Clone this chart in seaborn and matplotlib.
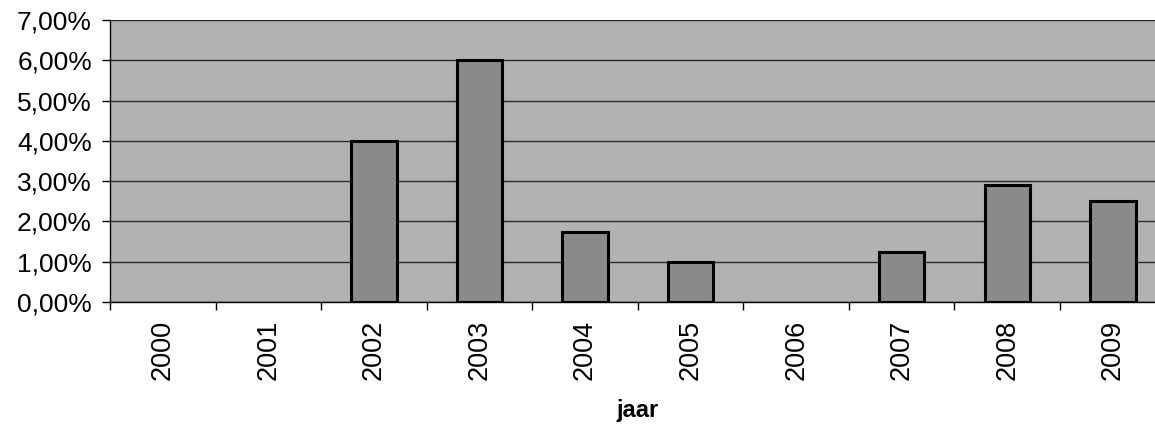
import numpy as np
import pandas as pd
import matplotlib
matplotlib.use("Agg")
import matplotlib.pyplot as plt
from matplotlib.ticker import FuncFormatter, FixedLocator
import seaborn as sns

# Jaarlijkse percentages
jaren = ["2000", "2001", "2002", "2003", "2004", "2005", "2006", "2007", "2008", "2009"]
percentages = [0.0, 0.0, 4.0, 6.0, 1.75, 1.0, 0.0, 1.25, 2.9, 2.5]

df = pd.DataFrame({"jaar": jaren, "pct": percentages})

sns.set_theme(style="white")
plt.rcParams["font.family"] = ["Liberation Sans", "DejaVu Sans"]
plt.rcParams["text.color"] = "black"
plt.rcParams["xtick.color"] = "black"
plt.rcParams["ytick.color"] = "black"
plt.rcParams["axes.labelcolor"] = "black"

fig = plt.figure(figsize=(11.55, 4.24), dpi=100)
ax = fig.add_axes([0.0952, 0.2877, 0.914, 0.665])
ax.set_facecolor("#b2b2b2")

sns.barplot(data=df, x="jaar", y="pct", ax=ax, width=0.43,
            color="#8a8a8a", saturation=1, edgecolor="black", linewidth=2.2,
            zorder=3)

# geen rand tekenen bij nulwaarden
for p in ax.patches:
    if p.get_height() == 0:
        p.set_linewidth(0)

ax.set_ylim(0, 7)
ax.set_xlim(-0.5, 9.5)
ax.set_yticks(np.arange(0, 8, 1))
ax.yaxis.set_major_formatter(FuncFormatter(lambda v, _: f"{v:.2f}".replace(".", ",") + "%"))
ax.grid(axis="y", color="#2a2a2a", linewidth=1.0, zorder=1)
ax.set_axisbelow(True)

# streepjes tussen de categorieën
ax.xaxis.set_minor_locator(FixedLocator(np.arange(-0.5, 10, 1)))
ax.tick_params(axis="x", which="major", length=0, pad=13, labelsize=19.5, labelrotation=90)
ax.tick_params(axis="x", which="minor", length=6, width=1, color="black", direction="out", bottom=True)
ax.tick_params(axis="y", which="major", length=6, width=1, color="black", direction="out",
               left=True, pad=7, labelsize=19)

for s in ["top", "right"]:
    ax.spines[s].set_visible(False)
for s in ["left", "bottom"]:
    ax.spines[s].set_color("black")
    ax.spines[s].set_linewidth(1.0)

ax.set_ylabel("")
ax.set_xlabel("jaar", fontsize=17, fontweight="bold", labelpad=13)

fig.savefig("out.png", dpi=100)
